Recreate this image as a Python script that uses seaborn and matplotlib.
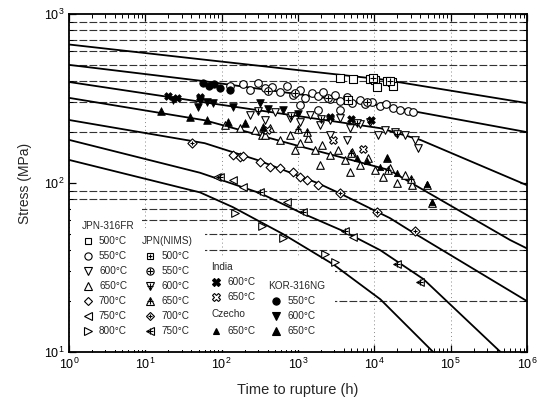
import numpy as np
import pandas as pd
import matplotlib
matplotlib.use("Agg")
import matplotlib.pyplot as plt
import seaborn as sns
from matplotlib.lines import Line2D
from matplotlib.patches import Rectangle
from matplotlib.ticker import LogLocator, NullFormatter, FixedLocator, LogFormatterSciNotation

# ---------------- master curves (time h, stress MPa) ----------------
curve_500_t = [1, 63, 12600, 1e6]
curve_500_s = [660, 535, 410, 297]
curve_550_t = [1, 60, 16000, 1e6]
curve_550_s = [500, 400, 282, 200]
curve_600_t = [1, 60, 12000, 40000, 1e6]
curve_600_s = [396, 300, 211, 180, 97]
curve_650_t = [1, 60, 1000, 16000, 22000, 600000, 1e6]
curve_650_s = [319, 235, 166, 119, 109, 46, 41]
curve_700_t = [1, 60, 290, 1800, 3500, 16000, 32000, 1e6]
curve_700_s = [236, 172, 137, 100, 87, 62, 51, 20]
curve_750_t = [1, 52, 320, 1070, 3900, 12000, 44000, 450000]
curve_750_s = [180, 115, 87, 67, 52, 40, 27, 10]
curve_800_t = [1, 52, 140, 630, 2900, 12000, 59000]
curve_800_s = [137, 88, 72, 50, 33, 20.5, 10]

# ---------------- JPN-316FR (open) ----------------
fr500_t = [3550, 5200, 8700, 10200, 11000, 14800, 17000, 17500]
fr500_s = [418, 412, 412, 407, 370, 400, 395, 373]
fr550_t = [130, 190, 235, 300, 370, 460, 585, 720, 865, 1060, 1240, 1520, 1830, 2140,
           2640, 3080, 3560, 4380, 5100, 6500, 7560, 9300, 12000, 14200, 17700, 21700,
           27600, 32000, 1830, 3600, 1060]
fr550_s = [375, 386, 355, 391, 365, 370, 345, 375, 332, 355, 319, 340, 327, 345,
           314, 332, 306, 323, 297, 310, 293, 302, 286, 293, 278, 270,
           267, 263, 270, 270, 289]
fr600_t = [235, 370, 500, 790, 1060, 1440, 1950, 2640, 3560, 4800, 6500, 8800, 11200,
           13800, 18700, 25300, 34300, 37500, 2640, 4400]
fr600_s = [252, 236, 263, 243, 230, 252, 220, 236, 243, 211, 223, 230, 192,
           206, 200, 192, 180, 161, 192, 180]
fr650_t = [110, 175, 275, 340, 430, 585, 790, 1060, 1350, 1660, 2090, 2640, 3370, 4140,
           5100, 6500, 8300, 10200, 13000, 16100, 19800, 25300, 31500, 49000, 57000,
           14700, 370, 920, 1950, 4800]
fr650_s = [220, 211, 206, 192, 211, 180, 192, 173, 185, 157, 168, 147, 157, 137,
           153, 128, 141, 119, 109, 123, 100, 111, 97, 97, 76,
           141, 192, 157, 128, 116]
fr700_t = [141, 175, 191, 318, 430, 585, 865, 1060, 1320, 1830]
fr700_s = [147, 143, 145, 133, 124, 123, 116, 109, 104, 97]
fr750_t = [87, 141, 191, 720, 5300]
fr750_s = [108, 104, 95, 77, 48]
fr800_t = [150, 340, 640, 2260, 3080]
fr800_s = [66, 56, 47, 38, 34]

# ---------------- JPN(NIMS) ----------------
nims500_t = [4500, 9500, 16000]
nims500_s = [310, 420, 400]
nims550_t = [400, 900, 2500, 8000]
nims550_s = [350, 340, 320, 300]
nims600_t = [300, 800, 2000, 6000, 20000]
nims600_s = [265, 250, 240, 225, 195]
nims650_t = [1000, 1300, 5000, 15000, 30000]
nims650_s = [208, 200, 150, 120, 105]
nims700_t = [41, 3550, 11000, 34000]
nims700_s = [173, 87, 67, 52]
nims750_t = [95, 318, 1160, 4140, 19800, 40000]
nims750_s = [109, 88, 67, 52, 33, 26]

# ---------------- India / Czecho ----------------
india600_t = [20, 26, 52, 2640, 5000, 9000]
india600_s = [327, 319, 323, 246, 240, 235]
india650_t = [390, 2900, 7000]
india650_s = [206, 180, 160]
czech650_t = [14700, 49000, 57000, 8000, 12000, 20000, 6000]
czech650_s = [141, 98, 77, 135, 125, 115, 140]

# ---------------- KOR-316NG (filled) ----------------
kor550_t = [57, 68, 80, 95, 130]
kor550_s = [390, 375, 385, 365, 355]
kor600_t = [23, 49, 52, 64, 77, 141, 318, 640, 400, 1000]
kor600_s = [310, 282, 310, 302, 297, 282, 297, 270, 275, 255]
kor650_t = [16, 38, 64, 120, 200, 350]
kor650_s = [268, 246, 236, 230, 225, 215]

x_ticks = [1, 10, 100, 1000, 1e4, 1e5, 1e6]
y_ticks = [10, 100, 1000]

sns.set_style("ticks")
plt.rcParams["font.family"] = ["Liberation Sans", "DejaVu Sans"]
plt.rcParams["mathtext.fontset"] = "custom"
plt.rcParams["mathtext.rm"] = "Liberation Sans"

W, H = 542, 407
fig = plt.figure(figsize=(W / 100, H / 100), dpi=100)
ax = fig.add_axes([69 / W, 1 - 352 / H, (527 - 69) / W, (352 - 14) / H])
ax.set_xscale("log")
ax.set_yscale("log")
ax.set_axisbelow(True)

# curves
for t, s in [(curve_500_t, curve_500_s), (curve_550_t, curve_550_s),
             (curve_600_t, curve_600_s), (curve_650_t, curve_650_s),
             (curve_700_t, curve_700_s), (curve_750_t, curve_750_s),
             (curve_800_t, curve_800_s)]:
    sns.lineplot(x=t, y=s, ax=ax, color="black", lw=1.3, sort=False,
                 estimator=None, legend=False, zorder=2)

OPEN = dict(color="white", edgecolor="black", linewidth=0.8)
FILL = dict(color="black", edgecolor="black", linewidth=0.6)

def pts(t, s, marker, size, style, plus=False):
    sns.scatterplot(x=t, y=s, marker=marker, s=size, ax=ax, legend=False,
                    zorder=3, **style)
    if plus:
        sns.scatterplot(x=t, y=s, marker="+", s=size * 0.55, ax=ax, legend=False,
                        color="black", linewidth=0.8, zorder=4)

pts(fr500_t, fr500_s, "s", 26, OPEN)
pts(fr550_t, fr550_s, "o", 30, OPEN)
pts(fr600_t, fr600_s, "v", 30, OPEN)
pts(fr650_t, fr650_s, "^", 30, OPEN)
pts(fr700_t, fr700_s, "D", 20, OPEN)
pts(fr750_t, fr750_s, "<", 30, OPEN)
pts(fr800_t, fr800_s, ">", 30, OPEN)

pts(nims500_t, nims500_s, "s", 26, OPEN, plus=True)
pts(nims550_t, nims550_s, "o", 30, OPEN, plus=True)
pts(nims600_t, nims600_s, "v", 30, OPEN, plus=True)
pts(nims650_t, nims650_s, "^", 30, OPEN, plus=True)
pts(nims700_t, nims700_s, "D", 22, OPEN, plus=True)
pts(nims750_t, nims750_s, "<", 30, OPEN, plus=True)

pts(india600_t, india600_s, "X", 30, FILL)
pts(india650_t, india650_s, "X", 30, OPEN)
pts(czech650_t, czech650_s, "^", 20, FILL)

pts(kor550_t, kor550_s, "o", 28, FILL)
pts(kor600_t, kor600_s, "v", 30, FILL)
pts(kor650_t, kor650_s, "^", 30, FILL)

ax.set_xlim(1, 1e6)
ax.set_ylim(10, 1000)
ax.xaxis.set_major_locator(FixedLocator(x_ticks))
ax.yaxis.set_major_locator(FixedLocator(y_ticks))
ax.xaxis.set_major_formatter(LogFormatterSciNotation())
ax.yaxis.set_major_formatter(LogFormatterSciNotation())
ax.xaxis.set_minor_locator(LogLocator(base=10, subs=np.arange(2, 10), numticks=20))
ax.yaxis.set_minor_locator(LogLocator(base=10, subs=np.arange(2, 10), numticks=20))
ax.xaxis.set_minor_formatter(NullFormatter())
ax.yaxis.set_minor_formatter(NullFormatter())
ax.tick_params(which="both", direction="in", top=True, right=True, colors="black",
               labelsize=9)
ax.tick_params(which="major", length=5, width=0.9)
ax.tick_params(which="minor", length=3, width=0.7)
ax.yaxis.grid(True, which="minor", ls=(0, (7, 2)), color="#333333", lw=0.8)
ax.xaxis.grid(True, which="major", ls=(0, (1, 3)), color="#888888", lw=0.7)
for sp in ax.spines.values():
    sp.set_linewidth(1.3)
    sp.set_color("black")
    sp.set_zorder(5)

ax.set_xlabel("Time to rupture (h)", fontsize=10.5, labelpad=8)
ax.set_ylabel("Stress (MPa)", fontsize=10, labelpad=8)

# ---------------- legend (manual layout) ----------------
FS = 7.2
def fx(px):
    return px / W
def fy(py):
    return 1 - py / H

# white background of the legend block (hides grid lines behind it)
for x0, y0, x1, y1 in [(71, 203, 142, 350), (142, 229, 205, 350), (205, 258, 335, 350)]:
    ax.add_patch(Rectangle((fx(x0), fy(y1)), fx(x1) - fx(x0), fy(y0) - fy(y1),
                           transform=fig.transFigure, facecolor="white",
                           edgecolor="none", zorder=1))

def head(px, py, txt):
    fig.text(fx(px), fy(py), txt, fontsize=FS, va="center", ha="left")

def item(mx, tx, py, txt, marker, filled, size=5.5, plus=False):
    fc = "black" if filled else "white"
    fig.add_artist(Line2D([fx(mx)], [fy(py)], marker=marker, ms=size,
                          mfc=fc, mec="black", mew=0.8, ls="",
                          transform=fig.transFigure))
    if plus:
        fig.add_artist(Line2D([fx(mx)], [fy(py)], marker="+", ms=size * 0.75,
                              mec="black", mew=0.8, ls="",
                              transform=fig.transFigure))
    fig.text(fx(tx), fy(py), txt, fontsize=FS, va="center", ha="left")

head(82, 226, "JPN-316FR")
fr_mk = [("s", 4.8), ("o", 5.2), ("v", 5.5), ("^", 5.5), ("D", 4.2), ("<", 5.5), (">", 5.5)]
for i, (temp, (mk, sz)) in enumerate(zip([500, 550, 600, 650, 700, 750, 800], fr_mk)):
    item(88, 99, 241 + 15 * i, f"{temp}°C", mk, False, sz)

head(142, 241, "JPN(NIMS)")
for i, (temp, (mk, sz)) in enumerate(zip([500, 550, 600, 650, 700, 750], fr_mk)):
    item(150, 162, 256 + 15 * i, f"{temp}°C", mk, False, sz, plus=True)

head(211, 267, "India")
item(216, 228, 282, "600°C", "X", True, 5.5)
item(216, 228, 297, "650°C", "X", False, 5.5)
head(211, 314, "Czecho")
item(216, 228, 331, "650°C", "^", True, 4.8)

head(268, 286, "KOR-316NG")
item(276, 288, 301, "550°C", "o", True, 5.2)
item(276, 288, 316, "600°C", "v", True, 5.5)
item(276, 288, 331, "650°C", "^", True, 5.5)

fig.savefig("out.png", dpi=100)
